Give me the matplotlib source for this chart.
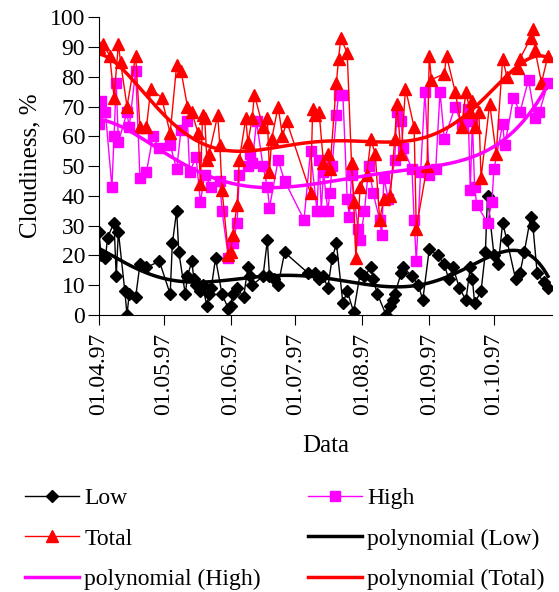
import numpy as np
import pandas as pd
import matplotlib
matplotlib.use('Agg')
import matplotlib.pyplot as plt
import matplotlib.dates as mdates
from numpy.polynomial import Polynomial

plt.rcParams['font.family'] = ['Liberation Serif', 'DejaVu Serif']

start = pd.Timestamp('1997-04-01')

# days after 01.04.97 and cloudiness values, %
low_days = [0, 1, 3, 4, 7, 8, 9, 12, 13, 14, 17, 19, 22, 28, 33, 34, 36, 37, 40, 41,
            43, 44, 45, 47, 48, 50, 51, 52, 54, 57, 60, 61, 62, 64, 67, 69, 70, 71, 76, 78,
            79, 81, 83, 86, 97, 100, 102, 104, 106, 108, 110, 113, 115, 118, 121, 123, 126, 127, 129, 133,
            135, 136, 137, 140, 141, 145, 148, 150, 153, 157, 160, 162, 164, 167, 170, 172, 173, 174, 177, 179,
            180, 183, 185, 187, 189, 193, 195, 197, 200, 201, 203, 206, 208]
low_vals = [28, 20, 19, 26, 31, 13, 28, 8, 0, 7, 6, 17, 16, 18, 7, 24, 35, 21, 7, 13,
            18, 12, 10, 8, 10, 3, 7, 9, 19, 7, 2, 3, 7, 9, 6, 16, 13, 10, 13, 25,
            13, 12, 10, 21, 14, 14, 12, 13, 9, 19, 24, 4, 8, 1, 14, 13, 16, 12, 7, 0,
            3, 5, 7, 14, 16, 13, 10, 5, 22, 20, 17, 12, 16, 9, 5, 16, 12, 4, 8, 21,
            40, 20, 17, 31, 25, 12, 14, 21, 33, 30, 14, 11, 9]

high_days = [0, 1, 3, 6, 7, 8, 9, 13, 14, 17, 19, 22, 25, 28, 33, 36, 38, 41, 42, 45,
             47, 49, 52, 56, 57, 60, 62, 64, 65, 69, 70, 71, 73, 76, 78, 79, 83, 86, 95, 98,
             101, 102, 103, 104, 106, 107, 108, 110, 111, 113, 115, 116, 117, 120, 121, 123, 125, 127, 130, 131,
             132, 134, 137, 138, 140, 141, 145, 146, 147, 149, 151, 153, 156, 158, 160, 165, 168, 171, 172, 173,
             174, 175, 180, 182, 183, 187, 188, 192, 195, 199, 202, 204, 208]
high_vals = [64, 72, 68, 43, 60, 78, 58, 68, 63, 82, 46, 48, 60, 56, 57, 49, 62, 65, 48, 53,
             38, 47, 43, 45, 35, 19, 24, 31, 47, 50, 54, 51, 65, 50, 43, 36, 52, 45, 32, 55,
             35, 52, 35, 48, 35, 41, 50, 67, 74, 74, 39, 33, 47, 29, 25, 35, 50, 41, 32, 27,
             46, 39, 52, 68, 65, 56, 49, 32, 18, 48, 75, 47, 49, 75, 59, 70, 64, 69, 42, 65,
             43, 37, 31, 38, 49, 64, 57, 73, 68, 79, 66, 68, 78]

total_days = [0, 2, 5, 7, 9, 10, 13, 17, 19, 22, 24, 29, 33, 36, 38, 41, 43, 46, 47, 48,
              49, 50, 51, 55, 56, 57, 60, 61, 62, 64, 65, 68, 69, 71, 72, 76, 78, 79, 80, 83,
              85, 87, 98, 99, 100, 102, 104, 106, 107, 110, 111, 112, 115, 117, 118, 119, 121, 124, 126, 128,
              130, 132, 135, 137, 138, 140, 142, 146, 147, 152, 153, 154, 160, 161, 165, 168, 170, 172, 173, 174,
              176, 177, 181, 184, 187, 189, 194, 195, 200, 201, 202, 205, 208]
total_vals = [90, 91, 87, 73, 91, 85, 70, 87, 63, 63, 76, 73, 61, 84, 82, 70, 68, 61, 44, 67,
              66, 52, 54, 67, 57, 42, 20, 21, 27, 37, 52, 66, 58, 66, 74, 63, 66, 48, 59, 70,
              60, 65, 41, 69, 67, 68, 51, 54, 49, 78, 86, 93, 88, 51, 38, 19, 43, 47, 59, 54,
              32, 39, 40, 59, 71, 54, 76, 63, 29, 50, 87, 79, 81, 87, 75, 63, 75, 68, 72, 63,
              68, 46, 71, 54, 86, 80, 83, 86, 93, 96, 89, 78, 87]

month_ticks = pd.date_range('1997-04-01', '1997-10-01', freq='MS')


def to_dates(days):
    return start + pd.to_timedelta(days, unit='D')


fig = plt.figure(figsize=(5.59, 5.92), dpi=100)
ax = fig.add_axes([0.177, 0.468, 0.811, 0.503])

ax.plot(to_dates(low_days), low_vals, color='black', lw=1, marker='D', ms=6, label='Low')
ax.plot(to_dates(high_days), high_vals, color='#ff00ff', lw=1, marker='s', ms=6.5, label='High')
ax.plot(to_dates(total_days), total_vals, color='red', lw=1, marker='^', ms=8, label='Total')

# polynomial trendlines
for name, d, v, c in [('Low', low_days, low_vals, 'black'),
                      ('High', high_days, high_vals, '#ff00ff'),
                      ('Total', total_days, total_vals, 'red')]:
    p = Polynomial.fit(d, v, 6)
    xs = np.linspace(min(d), max(d), 200)
    ax.plot(to_dates(xs), p(xs), color=c, lw=2.5, label='polynomial (%s)' % name)

ax.set_ylim(0, 100)
ax.set_yticks(range(0, 101, 10))
ax.set_xlim(start, start + pd.Timedelta(days=210))
ax.set_xticks(month_ticks)
ax.xaxis.set_major_formatter(mdates.DateFormatter('%d.%m.%y'))
ax.tick_params(axis='x', rotation=90, direction='out', length=7, labelsize=17, pad=6)
ax.tick_params(axis='y', direction='out', length=8, labelsize=17, pad=2)
for s in ['top', 'right']:
    ax.spines[s].set_visible(False)
ax.set_ylabel('Cloudiness, %', fontsize=18, labelpad=6)
ax.set_xlabel('Data', fontsize=18, labelpad=14)

h, l = ax.get_legend_handles_labels()
order = [0, 2, 4, 1, 3, 5]
fig.legend([h[i] for i in order], [l[i] for i in order], ncol=2, frameon=False,
           loc='upper left', bbox_to_anchor=(0.045, 0.176), fontsize=17,
           handlelength=2.3, labelspacing=0.8, columnspacing=2.0,
           handletextpad=0.2, borderpad=0, borderaxespad=0)

fig.savefig('out.png', dpi=100)
